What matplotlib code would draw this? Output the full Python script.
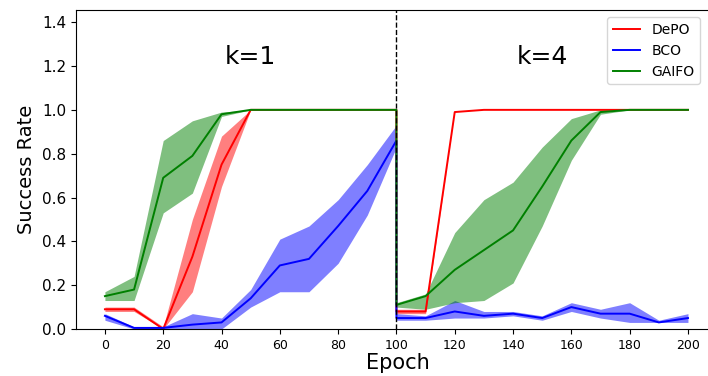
import matplotlib.pyplot as plt
import numpy as np

# epochs: k=1 segment (0..100) then k=4 segment (100..200)
epochs = [0, 10, 20, 30, 40, 50, 60, 70, 80, 90, 100,
          100, 110, 120, 130, 140, 150, 160, 170, 180, 190, 200]

depo_mean = [0.09, 0.09, 0.00, 0.33, 0.75, 1.0, 1.0, 1.0, 1.0, 1.0, 1.0,
             0.08, 0.08, 0.99, 1.0, 1.0, 1.0, 1.0, 1.0, 1.0, 1.0, 1.0]
depo_low = [0.08, 0.08, 0.00, 0.17, 0.65, 1.0, 1.0, 1.0, 1.0, 1.0, 1.0,
            0.07, 0.07, 0.99, 1.0, 1.0, 1.0, 1.0, 1.0, 1.0, 1.0, 1.0]
depo_high = [0.10, 0.10, 0.01, 0.50, 0.88, 1.0, 1.0, 1.0, 1.0, 1.0, 1.0,
             0.09, 0.09, 0.99, 1.0, 1.0, 1.0, 1.0, 1.0, 1.0, 1.0, 1.0]

bco_mean = [0.06, 0.005, 0.005, 0.02, 0.03, 0.14, 0.29, 0.32, 0.47, 0.63, 0.86,
            0.05, 0.05, 0.08, 0.06, 0.07, 0.05, 0.10, 0.07, 0.07, 0.03, 0.05]
bco_low = [0.04, 0.0, 0.0, 0.0, 0.0, 0.10, 0.17, 0.17, 0.30, 0.52, 0.83,
           0.04, 0.04, 0.05, 0.05, 0.06, 0.04, 0.08, 0.05, 0.03, 0.03, 0.03]
bco_high = [0.07, 0.01, 0.01, 0.07, 0.05, 0.18, 0.41, 0.47, 0.59, 0.75, 0.93,
            0.07, 0.06, 0.13, 0.08, 0.08, 0.06, 0.12, 0.09, 0.12, 0.04, 0.07]

gaifo_mean = [0.15, 0.18, 0.69, 0.79, 0.98, 1.0, 1.0, 1.0, 1.0, 1.0, 1.0,
              0.11, 0.15, 0.27, 0.36, 0.45, 0.65, 0.86, 0.99, 1.0, 1.0, 1.0]
gaifo_low = [0.13, 0.13, 0.53, 0.62, 0.97, 1.0, 1.0, 1.0, 1.0, 1.0, 1.0,
             0.10, 0.09, 0.12, 0.13, 0.21, 0.47, 0.77, 0.98, 1.0, 1.0, 1.0]
gaifo_high = [0.17, 0.24, 0.86, 0.95, 0.99, 1.0, 1.0, 1.0, 1.0, 1.0, 1.0,
              0.12, 0.16, 0.44, 0.59, 0.67, 0.83, 0.96, 1.0, 1.0, 1.0, 1.0]

series = [("DePO", "red", depo_mean, depo_low, depo_high),
          ("BCO", "blue", bco_mean, bco_low, bco_high),
          ("GAIFO", "green", gaifo_mean, gaifo_low, gaifo_high)]

fig = plt.figure(figsize=(7.08, 3.76), dpi=100)
# right spine sits just past the figure edge, as in the cropped original
ax = fig.add_axes([0.107, 0.125, 0.91, 0.848])

for name, color, mean, low, high in series:
    ax.fill_between(epochs, low, high, color=color, alpha=0.5, linewidth=0)
    ax.plot(epochs, mean, color=color, linewidth=1.4, label=name)

ax.axvline(100, color="black", linestyle="--", linewidth=1)

ax.text(50, 1.24, "k=1", fontsize=18, ha="center", va="center")
ax.text(150, 1.24, "k=4", fontsize=18, ha="center", va="center")

ax.set_xlim(-10, 211)
ax.set_ylim(0, 1.455)
ax.set_xticks(np.arange(0, 201, 20))
ax.set_yticks(np.arange(0, 1.41, 0.2))
ax.tick_params(axis="x", labelsize=9)
ax.tick_params(axis="y", labelsize=11)
ax.set_xlabel("Epoch", fontsize=15, labelpad=1)
ax.set_ylabel("Success Rate", fontsize=14)
ax.legend(loc="upper right", bbox_to_anchor=(0.98, 1.0), fontsize=10)

fig.savefig("out.png", dpi=100)
